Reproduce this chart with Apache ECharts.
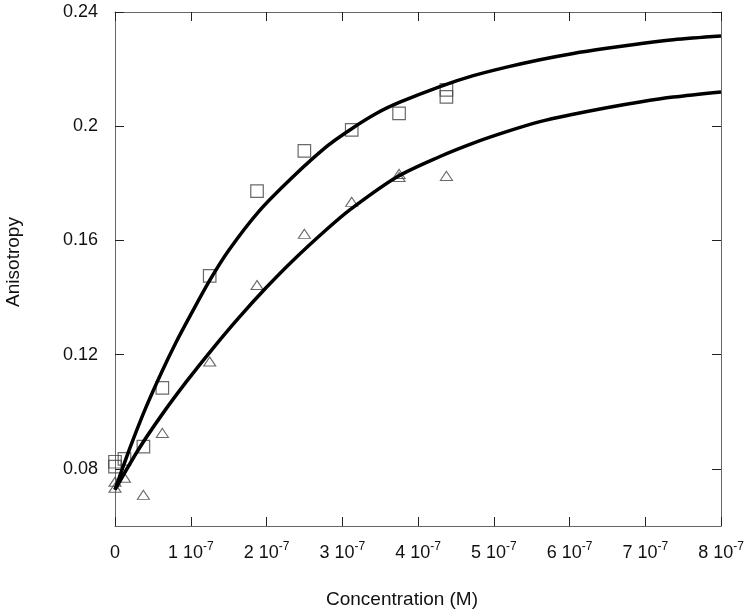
<!DOCTYPE html>
<html>
<head>
<meta charset="utf-8">
<script src="https://cdn.jsdelivr.net/npm/echarts@6.0.0/dist/echarts.min.js"></script>
<style>
  html, body { margin: 0; padding: 0; background: #fff; }
  #chart { width: 751px; height: 615px; }
</style>
</head>
<body>
<div id="chart"></div>
<script>
// concentrations are in units of 1e-7 M
const sqConc = [0, 0, 0.125, 0.375, 0.625, 1.25, 1.875, 2.5, 3.125, 3.75, 4.375, 4.375]
const sqAniso = [0.0825, 0.0808, 0.0835, 0.0878, 0.1084, 0.1476, 0.1773, 0.1914, 0.1987, 0.2045, 0.2127, 0.2103]

const triConc = [0, 0, 0.125, 0.375, 0.625, 1.25, 1.875, 2.5, 3.125, 3.75, 3.75, 4.375]
const triAniso = [0.0755, 0.0734, 0.0769, 0.0709, 0.0926, 0.1176, 0.1444, 0.1623, 0.1735, 0.1833, 0.1822, 0.1826]

// fitted curves
const fitUpperConc = [0, 0.2, 0.4, 0.6, 0.8, 1.0, 1.25, 1.5, 1.9, 2.35, 2.8, 3.1, 3.46, 3.76, 4.29, 4.73, 5.17, 5.61, 6.05, 6.49, 6.93, 7.37, 8]
const fitUpperAniso = [0.0727, 0.0875, 0.101, 0.113, 0.124, 0.134, 0.146, 0.1565, 0.1702, 0.1823, 0.193, 0.1987, 0.2046, 0.2084, 0.2139, 0.2177, 0.2207, 0.2233, 0.2255, 0.2273, 0.2289, 0.2303, 0.2316]

const fitLowerConc = [0, 0.31, 0.62, 0.95, 1.28, 1.63, 2.0, 2.35, 2.8, 3.1, 3.72, 4.29, 4.73, 5.17, 5.61, 6.05, 6.49, 6.93, 7.37, 8]
const fitLowerAniso = [0.0727, 0.0868, 0.099, 0.1108, 0.1218, 0.1328, 0.1436, 0.153, 0.164, 0.1707, 0.1822, 0.1894, 0.1941, 0.1981, 0.2016, 0.2042, 0.2065, 0.2085, 0.2102, 0.212]

const yTicks = [0.08, 0.12, 0.16, 0.2, 0.24]

const font = "'Liberation Sans', Arial, sans-serif"
const zip = (xs, ys) => xs.map((x, i) => [x, ys[i]])

const chart = echarts.init(document.getElementById('chart'))

const axisLineStyle = { color: '#666', width: 1 }
const tickStyle = { color: '#222', width: 1 }

chart.setOption({
  animation: false,
  backgroundColor: '#fff',
  grid: { left: 115, right: 30, top: 12, bottom: 89, outerBoundsMode: 'none', containLabel: false },
  xAxis: [
    {
      type: 'value', min: 0, max: 8, interval: 1,
      position: 'bottom',
      name: 'Concentration (M)', nameLocation: 'middle', nameGap: 64,
      nameTextStyle: { fontFamily: font, fontSize: 19, color: '#111', padding: [0, 32, 0, 0] },
      axisLine: { show: true, onZero: false, lineStyle: axisLineStyle },
      axisTick: { show: true, inside: true, length: 9, lineStyle: tickStyle },
      splitLine: { show: false },
      axisLabel: {
        margin: 15,
        formatter: v => v === 0 ? '{n|0}' : '{n|' + v + ' 10}{s|-7}',
        rich: {
          n: { fontFamily: font, fontSize: 18, color: '#111', lineHeight: 24 },
          s: { fontFamily: font, fontSize: 12, color: '#111', verticalAlign: 'top', lineHeight: 12 }
        }
      }
    },
    {
      type: 'value', min: 0, max: 8, interval: 1,
      position: 'top',
      axisLine: { show: true, onZero: false, lineStyle: axisLineStyle },
      axisTick: { show: true, inside: true, length: 9, lineStyle: tickStyle },
      axisLabel: { show: false },
      splitLine: { show: false }
    }
  ],
  yAxis: [
    {
      type: 'value', min: 0.06, max: 0.24,
      position: 'left',
      name: 'Anisotropy', nameLocation: 'middle', nameGap: 92, nameRotate: 90,
      nameTextStyle: { fontFamily: font, fontSize: 19, color: '#111', padding: [0, 0, 0, 14] },
      axisLine: { show: true, onZero: false, lineStyle: axisLineStyle },
      axisTick: { show: true, inside: true, length: 9, lineStyle: tickStyle, customValues: yTicks },
      splitLine: { show: false },
      axisLabel: {
        margin: 17,
        customValues: yTicks,
        formatter: v => String(+v.toFixed(2)),
        fontFamily: font, fontSize: 18, color: '#111'
      }
    },
    {
      type: 'value', min: 0.06, max: 0.24,
      position: 'right',
      axisLine: { show: true, onZero: false, lineStyle: axisLineStyle },
      axisTick: { show: true, inside: true, length: 9, lineStyle: tickStyle, customValues: yTicks },
      axisLabel: { show: false },
      splitLine: { show: false }
    }
  ],
  series: [
    {
      type: 'scatter', name: 'squares',
      data: zip(sqConc, sqAniso),
      symbol: 'rect', symbolSize: 12.5,
      itemStyle: { color: 'rgba(0,0,0,0)', borderColor: '#444', borderWidth: 1.2 },
      z: 2
    },
    {
      type: 'scatter', name: 'triangles',
      data: zip(triConc, triAniso),
      symbol: 'triangle', symbolSize: [12, 9],
      itemStyle: { color: 'rgba(0,0,0,0)', borderColor: '#444', borderWidth: 1.1 },
      z: 2
    },
    {
      type: 'line', name: 'fit upper',
      data: zip(fitUpperConc, fitUpperAniso),
      smooth: 0.3, showSymbol: false, symbol: 'none',
      lineStyle: { color: '#000', width: 3.5 },
      z: 3
    },
    {
      type: 'line', name: 'fit lower',
      data: zip(fitLowerConc, fitLowerAniso),
      smooth: 0.3, showSymbol: false, symbol: 'none',
      lineStyle: { color: '#000', width: 3.5 },
      z: 3
    }
  ]
})
</script>
</body>
</html>
